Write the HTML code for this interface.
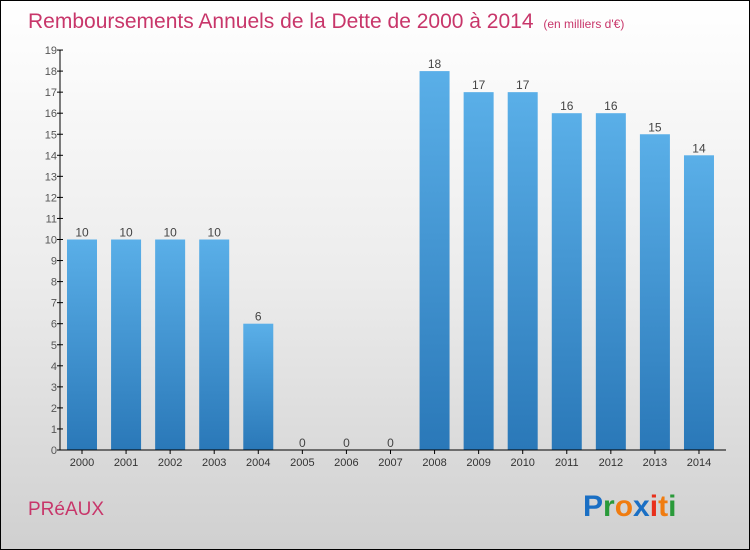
<!DOCTYPE html>
<html><head><meta charset="utf-8"><style>
body{margin:0;width:750px;height:550px;overflow:hidden;font-family:"Liberation Sans",sans-serif}
#wrap{position:relative;width:748px;height:548px;border:1px solid #000;background:linear-gradient(#ffffff,#ececec 50%,#d0d0d0)}
</style></head><body>
<div id="wrap">
<svg id="svg" width="748" height="548" style="position:absolute;left:0;top:0">
<text x="27" y="27" font-size="21" fill="#c8366a">Remboursements Annuels de la Dette de 2000 à 2014 <tspan font-size="12" dx="4">(en milliers d'€)</tspan></text>
<text x="27" y="514" font-size="19" fill="#c8366a">PRéAUX</text>
<g font-size="30" font-family="Liberation Sans, sans-serif" font-weight="bold">
<text x="582" y="515"><tspan fill="#1a6fc4">P</tspan><tspan fill="#2a9a3a">r</tspan><tspan fill="#f07c10">o</tspan><tspan fill="#1a6fc4">x</tspan><tspan fill="#e8301c">i</tspan><tspan fill="#f07c10">t</tspan><tspan fill="#2a9a3a">i</tspan></text>
</g>
<defs><linearGradient id="bg" x1="0" y1="0" x2="0" y2="1"><stop offset="0" stop-color="#5aafe8"/><stop offset="1" stop-color="#2a78b8"/></linearGradient></defs>
<g id="plot"></g>
</svg>
</div>
<script>
const years=["2000","2001","2002","2003","2004","2005","2006","2007","2008","2009","2010","2011","2012","2013","2014"];
const values=[10,10,10,10,6,0,0,0,18,17,17,16,16,15,14];
const yTicks=[0,1,2,3,4,5,6,7,8,9,10,11,12,13,14,15,16,17,18,19];
const ns="http://www.w3.org/2000/svg";
const g=document.getElementById('plot');
const y0=449,ppu=21.05,x0=59,cx0=81,step=44.07,bw=30;
const Y=v=>y0-v*ppu, X=i=>cx0+i*step;
function el(t,a){const e=document.createElementNS(ns,t);for(const k in a)e.setAttribute(k,a[k]);g.appendChild(e);return e;}
yTicks.forEach(t=>{
 const l=el('line',{x1:x0-3,x2:x0+3,y1:Y(t),y2:Y(t),stroke:'#000'});
 
 
 const tx=el('text',{x:x0-3,y:Y(t)+4,'font-size':11,fill:'#555','text-anchor':'end'});
 tx.textContent=t;
 
 
});
years.forEach((yr,i)=>{
 const v=values[i];
 if(v>0){const r=el('rect',{x:X(i)-bw/2,y:Y(v),width:bw,height:y0-Y(v),fill:'url(#bg)'});
 
 }
 const vl=el('text',{x:X(i),y:Y(v)-3,'font-size':12,fill:'#444','text-anchor':'middle'});
 vl.textContent=v;
 
 
 const tk=el('line',{x1:X(i),x2:X(i),y1:y0,y2:y0+4,stroke:'#000'});
 
 
 const xl=el('text',{x:X(i),y:y0+16,'font-size':11,fill:'#333','text-anchor':'middle'});
 xl.textContent=yr;
 
 
});
const ya=el('line',{x1:x0,x2:x0,y1:Y(19),y2:y0,stroke:'#000'});


const xa=el('line',{x1:x0,x2:725,y1:y0,y2:y0,stroke:'#000'});


</script>
</body></html>
